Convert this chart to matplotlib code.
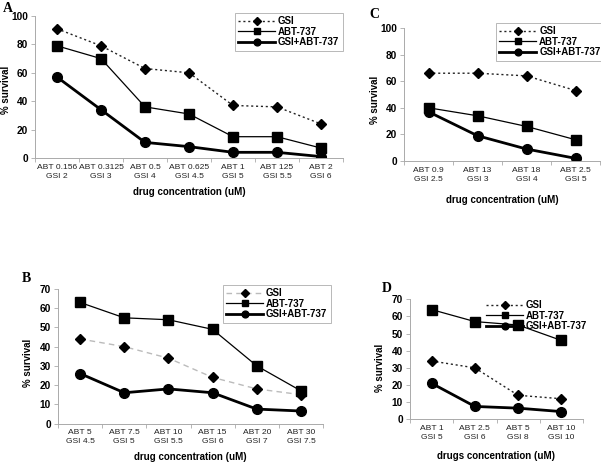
import matplotlib
matplotlib.use("Agg")
import matplotlib.pyplot as plt

plt.rcParams['font.family'] = ['Liberation Sans', 'DejaVu Sans']

# ---- Data ----
a_labels = ["ABT 0.156\nGSI 2", "ABT 0.3125\nGSI 3", "ABT 0.5\nGSI 4", "ABT 0.625\nGSI 4.5",
            "ABT 1\nGSI 5", "ABT 125\nGSI 5.5", "ABT 2\nGSI 6"]
a_gsi = [91, 79, 63, 60, 37, 36, 24]
a_abt = [79, 70, 36, 31, 15, 15, 7]
a_combo = [57, 34, 11, 8, 4, 4, 1]

b_labels = ["ABT 5\nGSI 4.5", "ABT 7.5\nGSI 5", "ABT 10\nGSI 5.5", "ABT 15\nGSI 6",
            "ABT 20\nGSI 7", "ABT 30\nGSI 7.5"]
b_gsi = [44, 40, 34, 24, 18, 15]
b_abt = [63, 55, 54, 49, 30, 17]
b_combo = [26, 16, 18, 16, 7.5, 6.5]

c_labels = ["ABT 0.9\nGSI 2.5", "ABT 13\nGSI 3", "ABT 18\nGSI 4", "ABT 2.5\nGSI 5"]
c_gsi = [66, 66, 64, 53]
c_abt = [40, 34, 26, 16]
c_combo = [37, 19, 9, 2]

d_labels = ["ABT 1\nGSI 5", "ABT 2.5\nGSI 6", "ABT 5\nGSI 8", "ABT 10\nGSI 10"]
d_gsi = [34, 30, 14, 12]
d_abt = [64, 57, 55, 46]
d_combo = [21, 7.5, 6.5, 4.5]

series_names = ["GSI", "ABT-737", "GSI+ABT-737"]

W, H = 601, 463
fig = plt.figure(figsize=(W / 100, H / 100), dpi=100)
fig.patch.set_facecolor('white')


def rect(x0, y0, x1, y1):
    return [x0 / W, 1 - y1 / H, (x1 - x0) / W, (y1 - y0) / H]


def panel(r, labels, gsi, abt, combo, ymax, ystep, gsi_color, gsi_ls,
          leg_xy, leg_frame, xlabel, xlabel_y, ylabel_xy, letter, letter_xy):
    ax = fig.add_axes(r)
    x = list(range(len(labels)))
    l1, = ax.plot(x, gsi, color=gsi_color, ls=gsi_ls, lw=1.0, marker='D', ms=5.5,
                  mfc='black', mec='black')
    l2, = ax.plot(x, abt, color='black', lw=0.9, marker='s', ms=6.5)
    l3, = ax.plot(x, combo, color='black', lw=2.0, marker='o', ms=7)
    ax.set_xlim(-0.5, len(labels) - 0.5)
    ax.set_ylim(0, ymax)
    ax.set_yticks(list(range(0, ymax + 1, ystep)))
    ax.set_xticks(x)
    ax.set_xticklabels(labels, fontsize=6.1, linespacing=1.45, color='#222222')
    ax.set_xticks([i + 0.5 for i in range(-1, len(labels))], minor=True)
    ax.tick_params(axis='x', which='major', length=0, pad=4)
    ax.tick_params(axis='x', which='minor', length=3, color='#aaaaaa', width=0.6)
    ax.tick_params(axis='y', length=3, color='#aaaaaa', width=0.6, pad=2, labelsize=7.3)
    for t in ax.get_yticklabels():
        t.set_fontweight('bold')
    for s in ['top', 'right']:
        ax.spines[s].set_visible(False)
    for s in ['left', 'bottom']:
        ax.spines[s].set_color('#aaaaaa')
        ax.spines[s].set_linewidth(0.7)
    ax.patch.set_alpha(0)
    cx = (r[0] + r[2] / 2)
    fig.text(cx, 1 - xlabel_y / H, xlabel, ha='center', va='center',
             fontsize=7, fontweight='bold')
    fig.text(ylabel_xy[0] / W, 1 - ylabel_xy[1] / H, "% survival", rotation=90,
             ha='center', va='center', fontsize=7, fontweight='bold')
    fig.text(letter_xy[0] / W, 1 - letter_xy[1] / H, letter, ha='left', va='center',
             fontsize=10, fontweight='bold', family='Liberation Serif')
    leg = fig.legend([l1, l2, l3], series_names, loc='upper left',
                     bbox_to_anchor=(leg_xy[0] / W, 1 - leg_xy[1] / H),
                     bbox_transform=fig.transFigure,
                     frameon=leg_frame, fancybox=False, handlelength=3.8,
                     handletextpad=0.3, labelspacing=0.05, borderpad=0.35,
                     prop={'size': 7, 'weight': 'bold'}, markerscale=0.7)
    if leg_frame:
        leg.get_frame().set_edgecolor('#999999')
        leg.get_frame().set_linewidth(0.6)
    return ax


panel(rect(35, 16, 343, 158), a_labels, a_gsi, a_abt, a_combo, 100, 20,
      '#222222', (0, (1.5, 2)), (230, 8), True, "drug concentration (uM)", 192,
      (6, 90), "A", (3, 9))
panel(rect(404, 28, 600, 161), c_labels, c_gsi, c_abt, c_combo, 100, 20,
      '#222222', (0, (1.5, 2)), (491, 18), True, "drug concentration (uM)", 200,
      (375, 100), "C", (369, 15))
panel(rect(58, 289, 323, 423.5), b_labels, b_gsi, b_abt, b_combo, 70, 10,
      '#bbbbbb', (0, (4, 3)), (218, 280), True, "drug concentration (uM)", 457,
      (28, 363), "B", (22, 278))
panel(rect(410, 299.3, 583, 419.3), d_labels, d_gsi, d_abt, d_combo, 70, 10,
      '#222222', (0, (1.5, 2)), (478, 292), False, "drugs concentration (uM)", 456,
      (380, 368), "D", (382, 289))

fig.savefig("out.png", dpi=100)
